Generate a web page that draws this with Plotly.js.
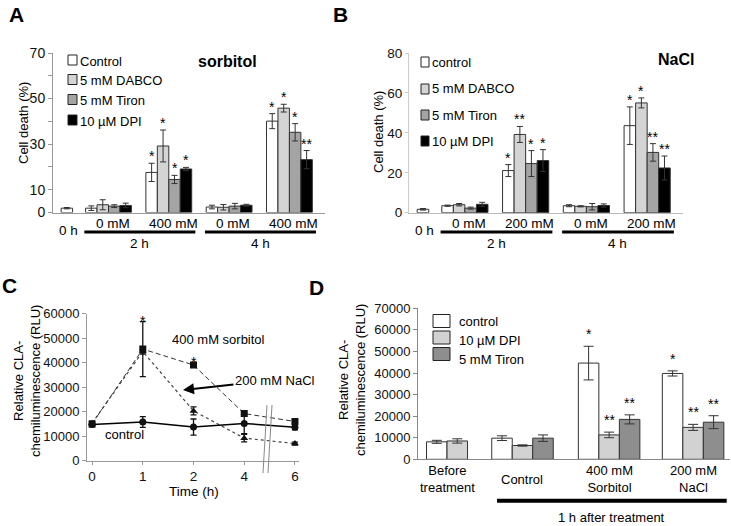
<!DOCTYPE html>
<html><head><meta charset="utf-8">
<script src="https://cdn.plot.ly/plotly-3.0.1.min.js"></script>
<style>html,body{margin:0;padding:0;background:#fff}</style>
</head><body><div id="chart" style="width:731px;height:526px"></div>
<script>
// ================= DATA =================
// Panel A — sorbitol (groups: 0 h | 2 h 0 mM | 2 h 400 mM | 4 h 0 mM | 4 h 400 mM)
const seriesA = ['Control', '5 mM DABCO', '5 mM Tiron', '10 µM DPI'];
const controlA = [1.9, 1.9, 17.6, 2.4, 40.1];
const controlAErr = [0.3, 1.0, 4.0, 0.8, 3.3];
const dabcoA = [null, 3.4, 29.2, 2.3, 45.8];
const dabcoAErr = [null, 2.2, 7.0, 1.2, 1.7];
const tironA = [null, 2.8, 14.5, 2.8, 35.2];
const tironAErr = [null, 0.6, 1.8, 1.2, 3.8];
const dpiA = [null, 3.1, 19.1, 3.2, 23.2];
const dpiAErr = [null, 1.0, 0.7, 0.4, 4.0];
const sigControlA = ['', '', '*', '', '*'];
const sigDabcoA = ['', '', '*', '', '*'];
const sigTironA = ['', '', '*', '', '*'];
const sigDpiA = ['', '', '*', '', '**'];
const doseLabelsA = ['0 mM', '400 mM', '0 mM', '400 mM'];
const yTicksA = [0, 10, 20, 30, 40, 50, 60, 70];
const yTickTextA = ['0', '10', '', '30', '', '50', '', '70'];

// Panel B — NaCl
const seriesB = ['control', '5 mM DABCO', '5 mM Tiron', '10 µM DPI'];
const controlB = [1.7, 3.5, 21.1, 3.5, 43.6];
const controlBErr = [0.4, 0.3, 3.0, 0.5, 9.4];
const dabcoB = [null, 4.0, 39.2, 3.2, 55.0];
const dabcoBErr = [null, 0.6, 4.0, 0.3, 2.5];
const tironB = [null, 2.3, 24.6, 3.0, 30.2];
const tironBErr = [null, 0.5, 6.5, 1.6, 4.4];
const dpiB = [null, 4.2, 26.1, 3.6, 22.4];
const dpiBErr = [null, 1.0, 5.5, 0.8, 6.0];
const sigControlB = ['', '', '*', '', '*'];
const sigDabcoB = ['', '', '**', '', '*'];
const sigTironB = ['', '', '*', '', '**'];
const sigDpiB = ['', '', '*', '', '**'];
const doseLabelsB = ['0 mM', '200 mM', '0 mM', '200 mM'];
const timeLabelsAB = ['0 h', '2 h', '4 h'];

// Panel C — time course
const timeC = ['0', '1', '2', '4', '6'];
const sorbitolC = [15000, 45500, 39000, 19200, 16000];
const sorbitolCErr = [800, 11200, 800, 1000, 800];
const naclC = [15300, 44500, 20300, 9200, 7000];
const naclCErr = [800, 1000, 1600, 1500, 600];
const controlC = [14800, 15800, 13700, 15200, 13600];
const controlCErr = [900, 2200, 3300, 4200, 1000];
const sigSorbitolC = ['', '*', '*', '', ''];

// Panel D — 1 h after treatment
const groupsD = ['Before<br>treatment', 'Control', '400 mM<br>Sorbitol', '200 mM<br>NaCl'];
const seriesD = ['control', '10 µM DPI', '5 mM Tiron'];
const controlD = [8100, 9800, 44600, 39800];
const controlDErr = [700, 1100, 7800, 1200];
const dpiD = [8500, 6400, 11300, 14800];
const dpiDErr = [1000, 300, 1300, 1400];
const tironD = [null, 9800, 18500, 17200];
const tironDErr = [null, 1500, 2100, 3000];
const sigControlD = ['', '', '*', '*'];
const sigDpiD = ['', '', '**', '**'];
const sigTironD = ['', '', '**', '**'];

// ================= LAYOUT HELPERS =================
const W = 731, H = 526;
const X = p => p / W, Y = p => 1 - p / H;
const FONT = '"Liberation Sans", Arial, Helvetica, sans-serif';
const posAB = [-0.69, 0, 1, 2, 3];
const posD = [0, 0.92, 1.976, 3];
const bwAB = 0.19, bwD = 0.25;
const fillsAB = ['#ffffff', '#d4d4d4', '#a4a4a4', '#000000'];
const fillsD = ['#ffffff', '#d2d2d2', '#8e8e8e'];

const traces = [], annotations = [], shapes = [];

function barPanel(o) {
  const nG = o.pos.length;
  const offs = o.vals.map(() => new Array(nG).fill(0));
  for (let g = 0; g < nG; g++) {
    const present = [];
    o.vals.forEach((v, s) => { if (v[g] != null) present.push(s); });
    present.forEach((s, k) => { offs[s][g] = -present.length * o.bw / 2 + k * o.bw; });
  }
  o.vals.forEach((v, s) => {
    traces.push({
      type: 'bar', name: o.names[s], x: o.pos, y: v, xaxis: o.xa, yaxis: o.ya,
      width: o.bw, offset: offs[s],
      marker: {color: o.fills[s], line: {color: '#333', width: 1}},
      error_y: {type: 'data', array: o.errs[s], visible: true, color: '#333', thickness: 1, width: o.cap},
      showlegend: false, hoverinfo: 'skip'
    });
    o.sigs[s].forEach((t, g) => {
      if (!t) return;
      annotations.push({
        xref: o.xa, yref: o.ya, x: o.pos[g] + offs[s][g] + o.bw / 2,
        y: v[g] + (o.errs[s][g] || 0), text: t, showarrow: false,
        yanchor: 'middle', yshift: o.sigShift,
        font: {size: 14, family: FONT, color: '#000'}
      });
    });
  });
}

function legendBoxes(names, fills, bx0, bx1, boxYs, boxH, tx, textYs) {
  names.forEach((n, i) => {
    shapes.push({type: 'rect', xref: 'paper', yref: 'paper',
      x0: X(bx0), x1: X(bx1), y0: Y(boxYs[i] + boxH / 2), y1: Y(boxYs[i] - boxH / 2),
      fillcolor: fills[i], line: {color: '#222', width: 1}});
    annotations.push({xref: 'paper', yref: 'paper', x: X(tx), y: Y(textYs[i]),
      xanchor: 'left', yanchor: 'middle', text: n, showarrow: false,
      font: {size: 13, family: FONT, color: '#000'}});
  });
}

function txt(xref, yref, x, y, text, size, extra) {
  annotations.push(Object.assign({xref, yref, x, y, text, showarrow: false,
    xanchor: 'center', yanchor: 'middle', font: {size, family: FONT, color: '#000'}}, extra || {}));
}

// ---- Panel A ----
barPanel({xa: 'x', ya: 'y', pos: posAB, bw: bwAB, names: seriesA,
  vals: [controlA, dabcoA, tironA, dpiA], errs: [controlAErr, dabcoAErr, tironAErr, dpiAErr],
  sigs: [sigControlA, sigDabcoA, sigTironA, sigDpiA], fills: fillsAB, sigShift: 7, cap: 3});
// ---- Panel B ----
barPanel({xa: 'x2', ya: 'y2', pos: posAB, bw: bwAB, names: seriesB,
  vals: [controlB, dabcoB, tironB, dpiB], errs: [controlBErr, dabcoBErr, tironBErr, dpiBErr],
  sigs: [sigControlB, sigDabcoB, sigTironB, sigDpiB], fills: fillsAB, sigShift: 7, cap: 3});
// ---- Panel D ----
barPanel({xa: 'x4', ya: 'y4', pos: posD, bw: bwD, names: seriesD,
  vals: [controlD, dpiD, tironD], errs: [controlDErr, dpiDErr, tironDErr],
  sigs: [sigControlD, sigDpiD, sigTironD], fills: fillsD, sigShift: 12, cap: 5});

// group labels A/B
[['x', doseLabelsA], ['x2', doseLabelsB]].forEach(([xa, labels]) => {
  labels.forEach((l, i) => txt(xa, 'paper', posAB[i + 1] + 0.07, Y(223), l, 13.5));
  txt(xa, 'paper', posAB[0] + 0.03, Y(231), timeLabelsAB[0], 13.5);
  [[1, 2], [3, 4]].forEach(([a, b], k) => {
    const x0 = posAB[a] - 0.40, x1 = posAB[b] + 0.44;
    shapes.push({type: 'line', xref: xa, yref: 'paper', x0, x1, y0: Y(232), y1: Y(232), line: {color: '#000', width: 3}});
    txt(xa, 'paper', (x0 + x1) / 2, Y(244), timeLabelsAB[k + 1], 13.5);
  });
});

// group labels D
groupsD.forEach((g, i) => txt('x4', 'paper', posD[i], Y(479), g, 13));
{
  const x0 = posD[1] - 0.31, x1 = posD[3] + 0.41;
  shapes.push({type: 'line', xref: 'x4', yref: 'paper', x0, x1, y0: Y(500.7), y1: Y(500.7), line: {color: '#000', width: 4}});
  txt('x4', 'paper', (x0 + x1) / 2, Y(517), '1 h after treatment', 13);
}

// ---- Panel C ----
const cLines = [
  {name: '200 mM NaCl', y: naclC, e: naclCErr, dash: 'dot', sym: 'triangle-up', col: '#444', w: 1.2},
  {name: '400 mM sorbitol', y: sorbitolC, e: sorbitolCErr, dash: '5px,3px', sym: 'square', col: '#333', w: 1},
  {name: 'control', y: controlC, e: controlCErr, dash: 'solid', sym: 'circle', col: '#000', w: 1.5}
];
cLines.forEach(c => traces.push({
  type: 'scatter', mode: 'lines+markers', name: c.name, x: timeC, y: c.y, xaxis: 'x3', yaxis: 'y3',
  line: {color: c.col, width: c.w, dash: c.dash},
  marker: {symbol: c.sym, size: 7, color: '#111'},
  error_y: {type: 'data', array: c.e, visible: true, color: '#111', thickness: 1.3, width: 3},
  showlegend: false, hoverinfo: 'skip'
}));
sigSorbitolC.forEach((t, i) => {
  if (!t) return;
  annotations.push({xref: 'x3', yref: 'y3', x: timeC[i], y: sorbitolC[i] + sorbitolCErr[i], text: t,
    showarrow: false, yanchor: 'middle', yshift: 1, font: {size: 14, family: FONT, color: '#000'}});
});
txt('paper', 'paper', X(218), Y(339), '400 mM sorbitol', 13);
txt('paper', 'paper', X(124), Y(434), 'control', 13);
annotations.push({xref: 'paper', yref: 'paper', x: X(183), y: Y(390), axref: 'pixel', ayref: 'pixel',
  ax: 92, ay: -10, text: '200 mM NaCl', showarrow: true, arrowhead: 2, arrowsize: 1.1,
  arrowwidth: 2, arrowcolor: '#000', font: {size: 13, family: FONT, color: '#000'}});
// axis break marks
[[267, 263], [272, 268]].forEach(([xt, xb]) => shapes.push({type: 'line', xref: 'paper', yref: 'paper',
  x0: X(xt), y0: Y(405), x1: X(xb), y1: Y(473), line: {color: '#888', width: 1}}));

// ---- Axis titles (placed as rotated text) ----
txt('paper', 'paper', X(24), Y(123), 'Cell death (%)', 13, {textangle: -90});
txt('paper', 'paper', X(379), Y(132), 'Cell death (%)', 13, {textangle: -90});
txt('paper', 'paper', X(27), Y(381), 'Relative CLA-<br>chemiluminescence (RLU)', 13, {textangle: -90});
txt('paper', 'paper', X(352), Y(380), 'Relative CLA-<br>chemiluminescence (RLU)', 13, {textangle: -90});
txt('paper', 'paper', X(194), Y(491), 'Time (h)', 13.5, {borderpad: 0});

// ---- Legends ----
legendBoxes(seriesA, fillsAB, 68, 77, [60, 79.5, 99.5, 120], 10, 78, [61, 80.5, 100.5, 121]);
legendBoxes(seriesB, fillsAB, 421, 429, [62, 89, 115, 141], 10, 430, [62, 89, 115, 141]);
legendBoxes(seriesD, fillsD, 433, 450, [321, 337.5, 354], 13, 457, [321, 340, 359]);

// ---- Panel titles / letters ----
txt('paper', 'paper', X(227), Y(61), '<b>sorbitol</b>', 16);
txt('paper', 'paper', X(676), Y(60), '<b>NaCl</b>', 16);
txt('paper', 'paper', X(16), Y(14), '<b>A</b>', 21);
txt('paper', 'paper', X(340), Y(14), '<b>B</b>', 21);
txt('paper', 'paper', X(9), Y(285), '<b>C</b>', 21);
txt('paper', 'paper', X(316), Y(287), '<b>D</b>', 21);

// ================= AXES =================
const tickF = s => ({size: s, family: FONT, color: '#111'});
const baseX = {showgrid: false, zeroline: false, showline: true, ticks: '', showticklabels: false, fixedrange: true, automargin: false};
const baseY = {showgrid: false, zeroline: false, showline: true, ticks: 'outside', ticklen: 4, fixedrange: true, automargin: false};

const layout = {
  width: W, height: H, margin: {l: 0, r: 0, t: 0, b: 0},
  paper_bgcolor: '#fff', plot_bgcolor: '#fff', showlegend: false, barmode: 'overlay',
  font: {family: FONT, color: '#000'},
  xaxis: Object.assign({}, baseX, {domain: [X(53), X(325)], range: [-0.92, 3.59], anchor: 'y', linecolor: '#999'}),
  yaxis: Object.assign({}, baseY, {domain: [Y(212.5), Y(52.9)], range: [0, 70.05], anchor: 'x',
    tickmode: 'array', tickvals: yTicksA, ticktext: yTickTextA, linecolor: '#999', tickcolor: '#999', tickfont: tickF(14)}),
  xaxis2: Object.assign({}, baseX, {domain: [X(409), X(683)], range: [-0.92, 3.59], anchor: 'y2', linecolor: '#bbb'}),
  yaxis2: Object.assign({}, baseY, {domain: [Y(212.7), Y(53)], range: [0, 80], anchor: 'x2', dtick: 20,
    ticklen: 3, linecolor: '#ccc', tickcolor: '#ccc', tickfont: tickF(13.5)}),
  xaxis3: Object.assign({}, baseX, {domain: [X(87), X(299)], range: [-0.1, 4.08], anchor: 'y3', type: 'category',
    categoryorder: 'array', categoryarray: timeC, linecolor: '#999', ticks: 'outside', ticklen: 3, tickcolor: '#999',
    showticklabels: true, tickfont: tickF(13.5)}),
  yaxis3: Object.assign({}, baseY, {domain: [Y(460.7), Y(313.5)], range: [0, 60000], anchor: 'x3', dtick: 10000,
    linecolor: '#999', tickcolor: '#999', tickfont: tickF(13), tickformat: 'd'}),
  xaxis4: Object.assign({}, baseX, {domain: [X(418), X(730)], range: [-0.354, 3.45], anchor: 'y4', linecolor: '#888'}),
  yaxis4: Object.assign({}, baseY, {domain: [Y(459.3), Y(308.3)], range: [0, 70000], anchor: 'x4', dtick: 10000,
    linecolor: '#888', tickcolor: '#888', tickfont: tickF(13), tickformat: 'd'}),
  annotations, shapes
};

Plotly.newPlot('chart', traces, layout, {staticPlot: true, displayModeBar: false});
</script></body></html>
